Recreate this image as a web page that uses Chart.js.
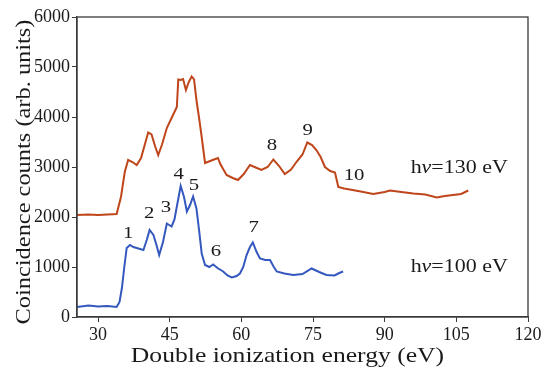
<!DOCTYPE html>
<html>
<head>
<meta charset="utf-8">
<script src="https://cdn.jsdelivr.net/npm/chart.js@4.4.1/dist/chart.umd.min.js"></script>
<style>
  html, body { margin: 0; padding: 0; background: #fff; }
  #wrap { width: 544px; height: 368px; }
</style>
</head>
<body>
<div id="wrap"><canvas id="spec"></canvas></div>
<script>
// hv = 130 eV spectrum (red)
const energy130 = [25.6, 28, 30, 32, 33.9, 34.8, 35.6, 36.3, 37.2, 38.1, 39, 39.8, 40.5, 41.2, 42, 42.6, 43.4, 44.4, 45.4, 46.5, 46.8, 47.3, 47.8, 48.4, 49, 49.6, 50.1, 50.6, 51.2, 51.7, 52.4, 53.2, 54, 55.1, 55.6, 56.9, 58.2, 59.3, 60.5, 61.8, 63, 64.2, 65.5, 66.7, 67.9, 69.1, 70.4, 71.6, 72.8, 73.8, 74.8, 75.7, 76.6, 77.5, 78.6, 79.6, 80.3, 81.5, 82.7, 85, 87.6, 90, 91.1, 93.5, 96, 98.5, 100.9, 102.6, 104.3, 106, 107.5];
const counts130 = [2040, 2050, 2040, 2050, 2060, 2400, 2900, 3140, 3100, 3040, 3180, 3450, 3690, 3650, 3400, 3240, 3450, 3780, 3980, 4200, 4750, 4740, 4760, 4540, 4700, 4810, 4750, 4340, 3950, 3600, 3080, 3110, 3140, 3180, 3060, 2840, 2780, 2740, 2860, 3040, 2990, 2940, 3000, 3150, 3020, 2860, 2950, 3110, 3250, 3490, 3440, 3340, 3200, 3000, 2920, 2890, 2600, 2570, 2550, 2510, 2460, 2500, 2530, 2500, 2470, 2450, 2390, 2420, 2440, 2460, 2530];

// hv = 100 eV spectrum (blue)
const energy100 = [25.6, 28, 30, 32, 33.9, 34.5, 35, 35.5, 36, 36.7, 37.4, 38.1, 39.5, 40.2, 40.8, 41.6, 42.2, 42.8, 43.6, 44.4, 45.4, 46, 46.5, 47.3, 48, 48.6, 49.3, 49.9, 50.6, 51.2, 51.7, 52.4, 53.3, 54.1, 55, 56.2, 57.1, 58, 59, 59.7, 60.4, 61.1, 61.8, 62.4, 63.2, 63.9, 65, 66, 66.8, 67.4, 69, 70.9, 72.8, 74.7, 76.3, 77.8, 79.5, 80.5, 81.3];
const counts100 = [200, 230, 210, 220, 200, 300, 580, 1000, 1380, 1440, 1400, 1380, 1340, 1540, 1740, 1640, 1450, 1240, 1500, 1870, 1810, 1950, 2210, 2620, 2400, 2110, 2250, 2410, 2170, 1700, 1270, 1040, 1000, 1050, 980, 910, 830, 790, 820, 870, 1000, 1240, 1400, 1490, 1300, 1170, 1140, 1140, 1000, 910, 870, 840, 860, 970, 900, 840, 830, 880, 910];

// peak labels
const peakNames = ['1', '2', '3', '4', '5', '6', '7', '8', '9', '10'];
const peakE = [36.3, 40.7, 44.2, 46.9, 50.1, 54.7, 62.6, 66.4, 73.9, 83.6];
const peakCounts = [1660, 2060, 2180, 2840, 2620, 1300, 1780, 3420, 3720, 2820];

// photon energy labels: "h" + italic nu + rest
const photonEnergies = ['130', '100'];
const photonLabelE = [105.6, 105.6];
const photonLabelCounts = [2980, 1000];

const xTicks = [30, 45, 60, 75, 90, 105, 120];
const xTitle = 'Double ionization energy (eV)';
const yTitle = 'Coincidence counts (arb. units)';

const serif = '"Liberation Serif", "DejaVu Serif", serif';
const STRETCH = 1.22; // computer modern is wider than times

function toPoints(xs, ys) {
  return xs.map((x, i) => ({ x: x, y: ys[i] }));
}

// draw text stretched horizontally, centred on x
function wideText(ctx, txt, x, y, font) {
  ctx.save();
  ctx.font = font;
  ctx.translate(x, y);
  ctx.scale(STRETCH, 1);
  ctx.textAlign = 'center';
  ctx.fillText(txt, 0, 0);
  ctx.restore();
}

function photonText(ctx, val, x, y) {
  const parts = [
    ['h', '18px ' + serif],
    ['\u03bd', 'italic 18px ' + serif],
    ['=' + val + ' eV', '18px ' + serif]
  ];
  ctx.save();
  ctx.textBaseline = 'middle';
  ctx.textAlign = 'left';
  let w = 0;
  parts.forEach(p => { ctx.font = p[1]; w += ctx.measureText(p[0]).width; });
  ctx.translate(x, y);
  ctx.scale(STRETCH, 1);
  let cx = -w / 2;
  parts.forEach(p => {
    ctx.font = p[1];
    ctx.fillText(p[0], cx, 0);
    cx += ctx.measureText(p[0]).width;
  });
  ctx.restore();
}

// frame, titles and text annotations
const annotate = {
  id: 'annotate',
  afterDatasetsDraw(chart) {
    const { ctx, chartArea: a, scales: { x, y } } = chart;
    ctx.save();
    ctx.strokeStyle = '#3a3a3a';
    ctx.lineWidth = 1.3;
    ctx.strokeRect(a.left, a.top, a.right - a.left, a.bottom - a.top);

    ctx.fillStyle = '#1a1a1a';
    ctx.textBaseline = 'middle';
    peakNames.forEach((n, i) => {
      wideText(ctx, n, x.getPixelForValue(peakE[i]), y.getPixelForValue(peakCounts[i]), '17px ' + serif);
    });
    photonEnergies.forEach((v, i) => {
      photonText(ctx, v, x.getPixelForValue(photonLabelE[i]), y.getPixelForValue(photonLabelCounts[i]));
    });

    // axis titles
    ctx.textBaseline = 'alphabetic';
    wideText(ctx, xTitle, (a.left + a.right) / 2 - 15, 362, '21px ' + serif);
    ctx.save();
    ctx.translate(30, 172);
    ctx.rotate(-Math.PI / 2);
    wideText(ctx, yTitle, 0, 0, '20px ' + serif);
    ctx.restore();
    ctx.restore();
  }
};

new Chart(document.getElementById('spec'), {
  type: 'line',
  data: {
    datasets: [
      {
        label: 'h\u03bd=130 eV',
        data: toPoints(energy130, counts130),
        borderColor: '#bf461b',
        borderWidth: 2,
        pointRadius: 0,
        tension: 0
      },
      {
        label: 'h\u03bd=100 eV',
        data: toPoints(energy100, counts100),
        borderColor: '#3558be',
        borderWidth: 2,
        pointRadius: 0,
        tension: 0
      }
    ]
  },
  options: {
    responsive: true,
    maintainAspectRatio: false,
    animation: false,
    layout: { padding: { top: 17, right: 16, left: 0, bottom: 0 } },
    plugins: { legend: { display: false }, tooltip: { enabled: false } },
    scales: {
      x: {
        type: 'linear',
        min: 25.6,
        max: 120,
        afterBuildTicks: s => { s.ticks = xTicks.map(v => ({ value: v })); },
        afterFit: s => { s.height = 51; },
        border: { color: '#3a3a3a', width: 1.3 },
        grid: { drawOnChartArea: false, drawTicks: true, tickLength: 5, color: '#3a3a3a' },
        ticks: { color: '#1a1a1a', font: { family: serif, size: 18 }, padding: 2, maxRotation: 0 }
      },
      y: {
        min: 0,
        max: 6000,
        afterFit: s => { s.width = 77; },
        border: { color: '#3a3a3a', width: 1.3 },
        grid: { drawOnChartArea: false, drawTicks: true, tickLength: 5, color: '#3a3a3a' },
        ticks: { stepSize: 1000, color: '#1a1a1a', font: { family: serif, size: 18 }, padding: 2, callback: v => String(v) }
      }
    }
  },
  plugins: [annotate]
});
</script>
</body>
</html>
